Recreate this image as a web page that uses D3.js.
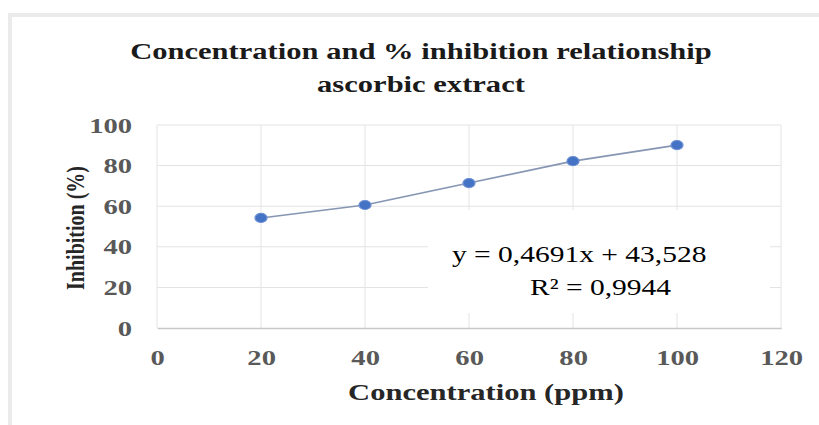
<!DOCTYPE html>
<html lang="en">
<head>
  <meta charset="UTF-8" />
  <title>Concentration and % inhibition relationship</title>
  <script src="https://d3js.org/d3.v7.min.js"></script>
  <style>
    body { margin: 0; padding: 0; background: #fff; }
    svg text { font-family: "Liberation Serif", "Times New Roman", serif; }
    .tick text { font-weight: bold; fill: #595959; font-size: 22px; }
    .grid line { stroke: #e3e3e3; stroke-width: 1; }
  </style>
</head>
<body>
  <svg width="819" height="425"></svg>

  <script>
    // data
    const concentration = [20, 40, 60, 80, 100];
    const inhibition = [54.2, 60.6, 71.4, 82.2, 90.1];
    const xTicks = [0, 20, 40, 60, 80, 100, 120];
    const yTicks = [0, 20, 40, 60, 80, 100];
    const titleLines = ["Concentration and % inhibition relationship", "ascorbic extract"];
    const equationLines = ["y = 0,4691x + 43,528", "R\u00b2 = 0,9944"];
    const xTitle = "Concentration (ppm)";
    const yTitle = "Inhibition (%)";

    // the original picture is stretched horizontally
    const sx = 1.3;
    const px = v => v / sx;
    const serif = '"Liberation Serif", "Times New Roman", serif';

    const svg = d3.select("svg");

    svg.append("rect")
      .attr("x", 10).attr("y", 15)
      .attr("width", 830).attr("height", 430)
      .attr("fill", "#fff")
      .attr("stroke", "#ebebeb")
      .attr("stroke-width", 4);

    const g = svg.append("g").attr("transform", `scale(${sx},1)`);

    const x = d3.scaleLinear().domain([0, 120]).range([px(157), px(781)]);
    const y = d3.scaleLinear().domain([0, 100]).range([328, 125]);

    // grid
    const grid = g.append("g").attr("class", "grid");
    grid.selectAll(".h").data(yTicks.filter(d => d > 0)).enter()
      .append("line")
      .attr("x1", x(0)).attr("x2", x(120))
      .attr("y1", d => y(d)).attr("y2", d => y(d));
    grid.selectAll(".v").data(xTicks).enter()
      .append("line")
      .attr("x1", d => x(d)).attr("x2", d => x(d))
      .attr("y1", y(100)).attr("y2", y(0))
      .attr("vector-effect", "non-scaling-stroke");

    // equation label background
    g.append("rect")
      .attr("x", px(428)).attr("y", 210)
      .attr("width", px(770 - 428)).attr("height", 103)
      .attr("fill", "#fff");

    // axes
    const xAxis = g.append("g")
      .attr("transform", `translate(0,${y(0)})`)
      .call(d3.axisBottom(x).tickValues(xTicks).tickSize(0).tickPadding(21));
    xAxis.attr("font-family", serif);
    xAxis.select(".domain").attr("stroke", "#c8c8c8").attr("stroke-width", 1.5);

    const yAxis = g.append("g")
      .attr("transform", `translate(${x(0)},0)`)
      .call(d3.axisLeft(y).tickValues(yTicks).tickSize(0).tickPadding(px(25)));
    yAxis.attr("font-family", serif);
    yAxis.select(".domain").remove();

    // series
    const pts = concentration.map((c, i) => ({ c, v: inhibition[i] }));
    g.append("path")
      .datum(pts)
      .attr("fill", "none")
      .attr("stroke", "#8797b3")
      .attr("stroke-width", 1.6)
      .attr("d", d3.line().x(d => x(d.c)).y(d => y(d.v)));

    g.selectAll(".pt").data(pts).enter()
      .append("circle")
      .attr("cx", d => x(d.c))
      .attr("cy", d => y(d.v))
      .attr("r", 4.6)
      .attr("fill", "#4472c4")
      .attr("stroke", "#6d8fd3")
      .attr("stroke-width", 1);

    // titles
    g.selectAll(".title").data(titleLines).enter()
      .append("text")
      .attr("x", px(421))
      .attr("y", (d, i) => 59 + i * 33)
      .attr("text-anchor", "middle")
      .attr("font-family", serif)
      .attr("font-weight", "bold")
      .attr("font-size", 23.5)
      .attr("fill", "#1a1a1a")
      .text(d => d);

    g.append("text")
      .attr("x", px(486))
      .attr("y", 400)
      .attr("text-anchor", "middle")
      .attr("font-family", serif)
      .attr("font-weight", "bold")
      .attr("font-size", 23.5)
      .attr("fill", "#262626")
      .text(xTitle);

    g.append("text")
      .attr("transform", `translate(${px(84)},228) rotate(-90)`)
      .attr("text-anchor", "middle")
      .attr("font-family", serif)
      .attr("font-weight", "bold")
      .attr("font-size", 20)
      .attr("fill", "#262626")
      .text(yTitle);

    // trendline equation
    g.selectAll(".eq").data(equationLines).enter()
      .append("text")
      .attr("x", (d, i) => px(i === 0 ? 452 : 530))
      .attr("y", (d, i) => 262 + i * 33)
      .attr("font-family", serif)
      .attr("font-size", 22.7)
      .attr("fill", "#000")
      .text(d => d);
  </script>
</body>
</html>
